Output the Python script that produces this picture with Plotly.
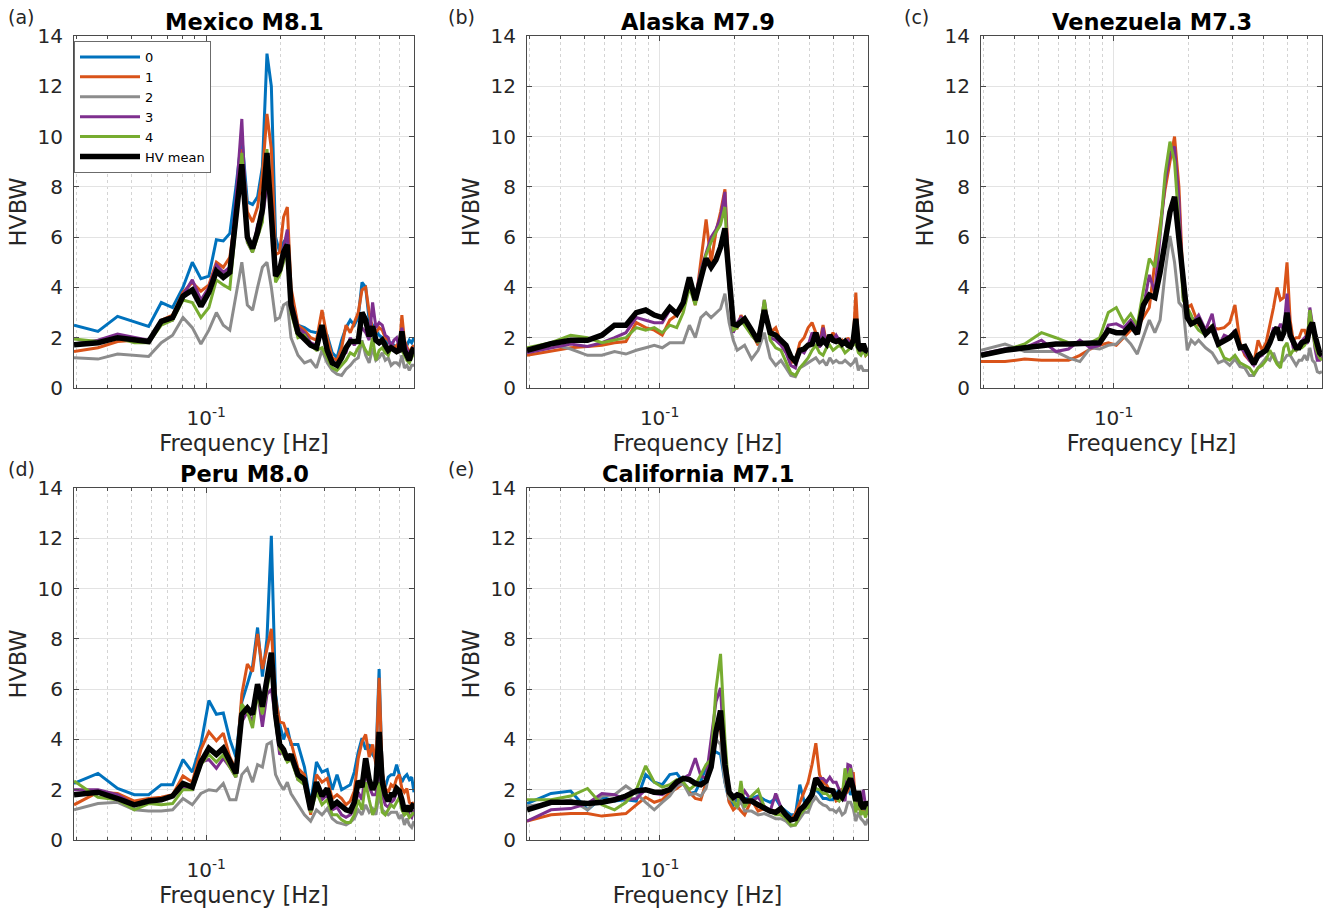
import math
import plotly.graph_objects as go

# Frequency axis [Hz] (common to all panels)
FREQ = [0.0293, 0.0366, 0.0439, 0.0513, 0.0586, 0.0659, 0.0732, 0.0806, 0.0879, 0.0952,
        0.1025, 0.1099, 0.1172, 0.1245, 0.1318, 0.1392, 0.1465, 0.1538, 0.1611, 0.1685,
        0.1758, 0.1831, 0.1904, 0.1978, 0.2051, 0.2124, 0.2197,
        0.2344, 0.2490, 0.2637, 0.2783, 0.2930, 0.3076, 0.3223, 0.3369, 0.3516, 0.3662,
        0.3809, 0.3955, 0.4102, 0.4248, 0.4395, 0.4541, 0.4688, 0.4834, 0.4980, 0.5127,
        0.5273, 0.5420, 0.5566, 0.5713, 0.5859, 0.6006, 0.6152, 0.6299, 0.6445, 0.6592,
        0.6738, 0.6885]

SERIES = ["0", "1", "2", "3", "4", "HV mean"]
COLORS = ["#0072BD", "#D95319", "#8C8C8C", "#7E2F8E", "#77AC30", "#000000"]
WIDTHS = [3.0, 3.0, 3.0, 3.0, 3.0, 5.5]

# ---- (a) Mexico M8.1
mex_0 = [2.5, 2.25, 2.85, 2.65, 2.45, 3.4, 3.2, 4.0, 5.0, 4.35, 4.45, 5.9, 5.85, 6.15, 8.0, 10.0, 7.4, 7.3, 7.6, 8.8, 13.3, 12.0, 6.0, 5.4, 5.8, 6.0, 3.5,
         2.5, 2.4, 2.25, 2.2, 2.3, 2.1, 1.4, 1.2, 1.9, 2.4, 2.7, 2.5, 2.8, 4.2, 4.0, 2.7, 2.5, 2.3, 2.1, 2.0, 1.9, 1.8, 1.8, 1.7, 1.6, 1.5, 2.0, 1.6, 1.7, 1.9, 1.8, 2.0]
mex_1 = [1.45, 1.6, 1.85, 1.9, 1.9, 2.7, 2.9, 3.8, 4.2, 3.85, 4.1, 5.0, 4.8, 5.2, 7.0, 9.5, 7.0, 6.6, 7.2, 8.5, 10.9, 9.5, 5.3, 5.4, 6.8, 7.2, 4.0,
         2.5, 2.3, 2.0, 1.9, 3.1, 2.0, 1.2, 1.1, 1.6, 2.5, 2.2, 2.6, 3.0, 3.9, 4.0, 3.0, 2.3, 2.2, 2.4, 2.3, 2.0, 1.9, 1.7, 1.6, 1.7, 1.5, 2.9, 1.9, 1.6, 1.4, 1.6, 1.7]
mex_2 = [1.2, 1.15, 1.35, 1.3, 1.25, 1.8, 2.1, 2.8, 2.4, 1.75, 2.3, 3.0, 2.5, 2.3, 3.6, 5.0, 3.3, 3.1, 4.0, 4.8, 5.0, 4.0, 2.7, 2.8, 3.3, 3.4, 2.0,
         1.3, 1.0, 1.1, 0.8, 1.5, 1.0, 0.7, 0.55, 0.5, 0.75, 0.9, 1.1, 1.2, 1.9, 1.3, 1.0, 1.6, 1.1, 1.2, 1.4, 1.1, 1.2, 0.9, 1.0, 1.0, 0.9, 1.3, 0.8, 0.9, 0.7, 0.9, 0.9]
mex_3 = [1.75, 1.9, 2.15, 2.0, 1.9, 2.6, 2.7, 3.7, 4.3, 3.5, 4.0, 4.9, 4.6, 4.8, 7.5, 10.7, 5.8, 5.4, 6.5, 6.8, 8.0, 7.5, 4.6, 4.8, 5.5, 6.3, 3.5,
         2.4, 2.2, 1.8, 1.7, 2.2, 1.6, 1.1, 0.9, 1.3, 1.4, 2.0, 1.7, 2.0, 2.4, 2.2, 1.9, 3.4, 2.4, 2.6, 2.5, 2.1, 2.0, 1.6, 1.9, 2.0, 1.6, 2.4, 1.8, 1.5, 1.3, 1.5, 1.6]
mex_4 = [1.95, 1.85, 2.0, 1.8, 1.8, 2.5, 2.7, 3.5, 3.4, 2.8, 3.2, 4.3, 4.1, 3.95, 6.5, 9.35, 5.8, 5.4, 6.0, 6.6, 9.5, 7.0, 4.2, 4.5, 5.0, 5.5, 3.0,
         2.0, 2.1, 1.7, 1.5, 1.6, 1.2, 0.8, 0.7, 0.9, 1.1, 1.4, 1.3, 1.6, 1.8, 1.5, 1.3, 2.0, 1.1, 1.5, 1.6, 1.4, 1.3, 1.6, 1.5, 1.4, 1.5, 1.5, 1.3, 1.1, 1.0, 1.2, 1.4]
mex_mean = [1.72, 1.8, 2.0, 1.9, 1.85, 2.65, 2.8, 3.65, 3.9, 3.25, 3.8, 4.65, 4.4, 4.6, 6.8, 8.9, 6.0, 5.55, 6.2, 7.1, 9.35, 6.5, 4.45, 4.7, 5.4, 5.7, 3.3,
            2.2, 1.95, 1.7, 1.6, 2.5, 1.5, 1.0, 0.9, 1.2, 1.6, 1.85, 1.85, 1.85, 3.0, 2.7, 2.05, 2.45, 1.9, 1.8, 1.9, 1.65, 1.5, 1.6, 1.5, 1.45, 1.5, 2.25, 1.5, 1.3, 1.1, 1.45, 1.6]

# ---- (b) Alaska M7.9 (no station 0)
ala_1 = [1.3, 1.45, 1.6, 1.65, 1.7, 1.8, 1.85, 2.6, 2.4, 2.3, 2.1, 2.7, 2.9, 3.2, 4.2, 3.3, 5.0, 6.7, 5.0, 6.2, 7.0, 7.9, 4.5, 2.5, 2.4, 2.9, 2.6,
         2.2, 1.7, 3.3, 2.2, 2.4, 1.8, 1.5, 1.0, 1.1, 1.8, 2.0, 2.4, 2.6, 2.2, 1.8, 2.5, 1.8, 1.9, 2.2, 2.0, 1.8, 1.9, 1.7, 2.0, 1.8, 1.9, 3.8, 1.8, 1.4, 1.6, 1.3, 1.4]
ala_2 = [1.5, 1.75, 1.55, 1.3, 1.3, 1.45, 1.35, 1.5, 1.6, 1.7, 1.6, 1.8, 1.8, 1.8, 2.5, 2.0, 2.8, 3.0, 2.8, 3.0, 3.15, 3.75, 2.6, 1.9, 1.5, 1.6, 1.7,
         1.15, 1.5, 2.2, 1.2, 0.9, 1.1, 0.8, 0.5, 0.45, 0.8, 0.9, 1.0, 1.1, 1.2, 1.0, 1.1, 0.9, 1.2, 1.0, 1.1, 1.0, 1.0, 1.1, 1.0, 0.9, 1.0, 1.2, 0.7, 0.9, 0.7, 0.7, 0.7]
ala_3 = [1.4, 1.6, 1.75, 1.65, 1.8, 2.0, 2.2, 2.8, 2.7, 2.6, 2.6, 3.1, 3.0, 3.4, 4.1, 3.6, 4.7, 5.4, 6.0, 6.3, 6.8, 7.8, 4.0, 2.2, 2.6, 2.8, 2.6,
         2.1, 1.8, 3.5, 2.0, 1.9, 1.7, 1.4, 0.9, 0.8, 1.5, 1.4, 1.7, 2.2, 2.0, 1.6, 2.4, 1.7, 2.0, 1.9, 2.1, 1.9, 1.8, 1.8, 1.9, 1.7, 2.0, 2.5, 1.6, 1.4, 1.7, 1.4, 1.5]
ala_4 = [1.6, 1.8, 2.1, 2.0, 1.8, 1.9, 2.0, 2.4, 2.3, 2.4, 2.2, 2.5, 2.4, 3.0, 4.0, 3.3, 4.6, 5.3, 5.8, 6.2, 6.5, 7.2, 4.0, 2.3, 2.4, 2.7, 2.5,
         2.1, 1.8, 3.5, 1.9, 1.6, 1.5, 1.0, 0.6, 0.5, 0.8, 1.0, 1.2, 1.5, 1.7, 1.4, 1.3, 1.6, 1.7, 1.5, 1.6, 1.7, 1.6, 1.4, 1.5, 1.6, 1.7, 1.8, 1.4, 1.3, 1.5, 1.3, 1.4]
ala_mean = [1.5, 1.76, 1.9, 1.9, 2.1, 2.5, 2.5, 3.0, 3.1, 2.9, 2.8, 3.2, 2.95, 3.4, 4.4, 3.5, 4.35, 5.15, 4.8, 5.1, 5.6, 6.35, 4.4, 2.55, 2.5, 2.6, 2.75,
            2.3, 1.85, 3.1, 2.2, 2.1, 1.9, 1.7, 1.25, 1.05, 1.5, 1.55, 1.7, 1.75, 2.2, 1.7, 1.9, 1.75, 2.1, 1.9, 1.85, 1.9, 1.75, 1.85, 1.7, 1.65, 1.9, 2.75, 1.65, 1.5, 1.75, 1.5, 1.45]

# ---- (c) Venezuela M7.3 (no station 0)
ven_1 = [1.05, 1.05, 1.15, 1.1, 1.1, 1.1, 1.3, 1.55, 1.7, 1.8, 1.7, 2.0, 2.3, 2.4, 2.8, 3.2, 5.0, 6.5, 7.9, 9.0, 10.0, 8.0, 4.1, 3.2, 3.3, 2.9, 2.5,
         2.4, 2.4, 2.35, 2.4, 2.6, 3.3, 1.8, 1.3, 1.1, 1.0, 1.9, 1.5, 1.8, 2.5, 3.2, 4.0, 3.5, 3.6, 5.0, 2.7, 1.9, 2.0, 2.0, 2.3, 2.3, 2.0, 2.9, 2.5, 1.8, 1.4, 1.2, 1.2]
ven_2 = [1.5, 1.75, 1.45, 1.45, 1.45, 1.2, 1.05, 1.6, 1.55, 1.7, 1.75, 2.05, 1.75, 1.35, 2.0, 2.7, 2.2, 2.7, 4.6, 6.05, 5.0, 3.4, 3.2, 1.5, 1.9, 1.75, 1.9,
         1.6, 1.4, 1.0, 1.1, 0.9, 1.15, 0.85, 0.8, 0.5, 0.5, 0.8, 1.0, 1.2, 1.1, 1.4, 1.0, 1.0, 1.1, 1.3, 1.3, 1.1, 0.9, 1.1, 1.1, 1.3, 1.1, 1.6, 1.1, 1.0, 0.65, 0.6, 0.65]
ven_3 = [1.35, 1.55, 1.6, 1.9, 1.45, 1.55, 1.9, 1.6, 1.7, 2.5, 2.55, 2.4, 2.7, 2.4, 3.2, 4.5, 3.8, 6.0, 8.2, 9.3, 9.6, 7.5, 3.6, 3.0, 2.8, 2.7, 2.9,
         2.3, 2.95, 1.65, 2.1, 2.0, 2.3, 1.65, 1.4, 1.1, 0.9, 1.2, 1.3, 1.5, 1.8, 2.4, 2.2, 2.55, 2.3, 3.75, 2.3, 1.6, 1.5, 1.75, 1.9, 2.0, 1.75, 3.2, 2.55, 1.6, 1.1, 1.1, 1.3]
ven_4 = [1.3, 1.5, 1.75, 2.2, 2.0, 1.8, 1.75, 1.8, 2.0, 3.0, 3.2, 2.6, 2.95, 2.5, 3.9, 5.15, 4.8, 6.2, 8.5, 9.8, 9.0, 6.5, 3.5, 3.2, 2.9, 2.5, 2.3,
         2.1, 2.5, 1.7, 1.2, 1.1, 1.3, 1.0, 0.9, 0.8, 0.55, 0.8, 0.9, 1.1, 1.5, 1.2, 0.95, 0.8, 1.6, 1.8, 1.3, 1.5, 1.5, 1.6, 1.6, 1.7, 1.9, 3.1, 2.4, 1.7, 1.4, 1.2, 1.1]
ven_mean = [1.3, 1.5, 1.6, 1.7, 1.75, 1.75, 1.75, 1.75, 1.8, 2.3, 2.2, 2.2, 2.5, 2.15, 3.3, 3.7, 3.6, 4.6, 5.8, 7.0, 7.6, 6.0, 4.0, 2.8, 2.55, 2.6, 2.7,
            2.15, 2.4, 1.75, 1.85, 2.0, 2.2, 1.6, 1.65, 1.3, 0.95, 1.3, 1.4, 1.5, 1.8, 2.2, 2.4, 1.9, 2.2, 3.0, 2.1, 1.8, 1.6, 1.6, 1.8, 1.85, 1.9, 2.4, 2.6, 2.1, 1.7, 1.4, 1.3]

# ---- (d) Peru M8.0
per_0 = [2.25, 2.65, 2.05, 1.8, 1.8, 2.2, 2.2, 3.2, 2.7, 3.8, 5.55, 5.0, 5.05, 4.0, 3.3, 5.5, 6.2, 6.9, 8.45, 6.5, 8.0, 12.1, 5.8, 4.6, 4.0, 4.45, 3.8,
         3.8, 2.9, 1.4, 3.1, 2.7, 2.8, 2.0, 2.6, 2.0, 2.1, 2.2, 2.7, 3.5, 4.05, 3.6, 3.8, 3.4, 3.2, 6.8, 2.6, 2.1, 2.5, 2.6, 2.6, 3.0, 2.6, 2.3, 2.5, 2.6, 2.4, 2.5, 1.9]
per_1 = [1.4, 1.9, 1.85, 1.55, 1.65, 1.7, 1.8, 2.55, 2.3, 3.6, 4.3, 3.95, 4.25, 3.3, 2.8, 5.8, 7.0, 6.7, 8.2, 6.8, 7.6, 8.4, 5.6, 4.7, 4.65, 4.2, 3.9,
         2.85, 2.6, 1.0, 2.6, 2.3, 2.45, 1.65, 1.8, 1.65, 1.4, 1.55, 1.95, 3.25, 3.9, 4.2, 3.3, 3.8, 3.0, 6.45, 2.7, 2.05, 1.9, 2.2, 2.1, 2.45, 2.6, 2.05, 1.9, 2.05, 1.5, 1.4, 1.5]
per_2 = [1.2, 1.45, 1.5, 1.2, 1.15, 1.15, 1.2, 1.65, 1.4, 1.85, 2.0, 1.95, 2.25, 1.6, 1.6, 2.6, 2.85, 2.3, 3.0, 2.9, 3.8, 3.9, 2.6, 2.25, 2.0, 2.3, 1.85,
         1.4, 1.0, 0.75, 1.2, 1.0, 1.25, 0.85, 0.7, 0.65, 0.6, 0.7, 0.85, 1.2, 1.0, 1.4, 1.1, 1.25, 1.0, 1.85, 1.2, 1.1, 1.0, 1.1, 1.1, 1.1, 0.85, 1.0, 0.6, 0.85, 0.6, 0.5, 0.75]
per_3 = [2.0, 2.0, 1.8, 1.4, 1.5, 1.6, 1.75, 2.05, 2.05, 3.1, 3.2, 2.85, 3.25, 2.9, 2.5, 4.7, 5.1, 4.7, 5.9, 4.5, 5.8, 6.0, 4.8, 3.4, 3.6, 3.2, 3.3,
         2.4, 2.3, 1.2, 2.1, 1.6, 1.8, 1.2, 1.3, 1.0, 0.9, 1.0, 1.2, 1.9, 1.6, 2.8, 2.1, 1.8, 1.8, 3.0, 1.8, 1.4, 1.3, 1.5, 1.6, 1.9, 1.9, 1.3, 1.0, 1.3, 1.0, 0.9, 1.2]
per_4 = [2.35, 1.7, 1.6, 1.2, 1.45, 1.4, 1.45, 2.0, 2.0, 3.0, 3.4, 3.1, 3.4, 2.9, 2.5, 5.4, 5.1, 4.45, 5.8, 5.0, 6.0, 7.0, 4.7, 3.6, 3.4, 3.1, 3.2,
         2.4, 2.2, 1.1, 1.9, 1.4, 1.6, 1.0, 1.0, 0.8, 0.7, 0.7, 1.0, 1.6, 1.2, 2.3, 1.6, 1.0, 1.3, 2.3, 1.1, 1.0, 1.2, 1.4, 1.3, 1.5, 1.7, 1.2, 1.0, 1.1, 0.9, 1.0, 1.1]
per_mean = [1.8, 1.9, 1.65, 1.4, 1.55, 1.6, 1.75, 2.25, 2.1, 3.1, 3.65, 3.4, 3.65, 3.1, 2.65, 5.0, 5.25, 5.0, 6.2, 5.3, 6.5, 7.45, 5.0, 3.8, 3.6, 3.2, 3.4,
            2.6, 2.4, 1.2, 2.3, 1.75, 2.05, 1.35, 1.5, 1.35, 1.2, 1.15, 1.5, 2.35, 2.1, 3.25, 2.4, 2.0, 2.3, 4.3, 2.3, 1.8, 1.55, 1.8, 1.8, 2.05, 1.95, 1.6, 1.15, 1.35, 1.15, 1.3, 1.45]

# ---- (e) California M7.1
cal_0 = [1.45, 1.85, 1.95, 1.2, 1.7, 1.55, 1.6, 1.55, 2.6, 2.3, 2.2, 2.6, 2.65, 2.3, 1.85, 1.9, 2.35, 2.85, 3.4, 3.5, 3.4, 2.3, 1.55, 1.4, 1.65, 1.6, 1.65,
         1.65, 1.75, 1.6, 1.5, 1.65, 1.3, 1.15, 1.0, 1.0, 2.2, 1.55, 1.6, 1.95, 2.0, 1.85, 1.65, 1.65, 1.6, 1.6, 1.85, 2.0, 1.8, 1.8, 2.1, 1.8, 1.95, 1.3, 1.4, 1.15, 1.15, 1.3, 1.15]
cal_1 = [0.75, 1.0, 1.05, 1.05, 0.95, 1.0, 1.05, 1.4, 1.7, 1.5, 1.6, 1.9, 2.05, 2.25, 1.9, 1.65, 1.6, 2.3, 3.3, 4.6, 4.4, 2.6, 1.5, 1.2, 1.35, 1.15, 1.0,
         1.6, 1.15, 1.25, 1.2, 1.15, 1.0, 0.9, 0.8, 1.05, 1.5, 1.9, 2.3, 3.0, 3.85, 2.6, 2.3, 2.2, 1.95, 1.9, 1.55, 1.6, 2.05, 1.8, 1.95, 2.35, 2.7, 1.3, 1.3, 1.15, 1.15, 1.0, 1.2]
cal_2 = [1.35, 1.45, 1.6, 1.2, 1.75, 1.8, 2.15, 1.85, 1.5, 1.2, 1.5, 1.75, 2.15, 2.25, 1.8, 1.85, 1.75, 2.05, 3.0, 4.0, 3.8, 2.3, 1.65, 1.55, 1.3, 1.55, 1.15,
         1.15, 1.0, 1.05, 0.95, 0.85, 0.85, 0.75, 0.55, 0.6, 0.85, 1.1, 1.1, 1.5, 1.7, 1.5, 1.4, 1.35, 1.2, 1.2, 1.1, 1.25, 1.0, 1.1, 1.5, 1.5, 1.25, 0.75, 1.1, 0.85, 0.75, 0.6, 0.85]
cal_3 = [0.75, 1.2, 1.25, 1.45, 1.85, 1.8, 1.6, 1.65, 2.0, 1.85, 1.8, 2.0, 2.2, 2.45, 2.6, 3.25, 2.55, 2.45, 3.9, 5.5, 6.05, 2.9, 1.8, 1.55, 1.8, 1.65, 1.95,
         1.55, 1.7, 1.35, 1.15, 1.85, 1.3, 0.95, 0.85, 0.85, 1.1, 1.3, 1.55, 1.9, 2.45, 2.45, 2.45, 2.3, 2.5, 2.3, 2.3, 2.0, 1.8, 1.55, 3.0, 2.95, 2.3, 1.5, 1.9, 1.5, 2.0, 1.3, 1.0]
cal_4 = [1.6, 1.6, 1.75, 2.05, 1.4, 1.2, 1.5, 2.0, 2.95, 2.3, 2.1, 2.2, 2.4, 2.3, 2.0, 2.2, 2.6, 3.0, 3.2, 6.0, 7.4, 4.0, 1.8, 1.55, 1.3, 2.35, 1.3,
         1.75, 2.0, 1.3, 1.15, 1.0, 1.0, 0.85, 0.6, 0.6, 1.0, 1.2, 1.3, 1.85, 2.05, 2.0, 1.85, 1.85, 1.7, 1.85, 1.65, 1.55, 1.7, 2.85, 2.3, 2.85, 1.9, 1.1, 1.55, 1.0, 1.15, 0.9, 1.4]
cal_mean = [1.2, 1.5, 1.5, 1.45, 1.5, 1.6, 1.75, 1.95, 2.0, 1.9, 1.9, 2.0, 2.3, 2.45, 2.4, 2.25, 2.2, 2.35, 2.9, 4.3, 5.15, 3.0, 1.9, 1.7, 1.8, 1.75, 1.55,
            1.55, 1.4, 1.25, 1.15, 1.1, 1.25, 1.0, 0.8, 0.85, 1.2, 1.35, 1.55, 1.8, 2.45, 2.25, 2.05, 2.0, 1.95, 1.95, 1.65, 1.85, 1.7, 1.95, 2.2, 2.45, 2.05, 1.55, 1.95, 1.4, 1.25, 1.5, 1.35]

PANELS = [
    ("(a)", "Mexico M8.1", [mex_0, mex_1, mex_2, mex_3, mex_4, mex_mean]),
    ("(b)", "Alaska M7.9", [None, ala_1, ala_2, ala_3, ala_4, ala_mean]),
    ("(c)", "Venezuela M7.3", [None, ven_1, ven_2, ven_3, ven_4, ven_mean]),
    ("(d)", "Peru M8.0", [per_0, per_1, per_2, per_3, per_4, per_mean]),
    ("(e)", "California M7.1", [cal_0, cal_1, cal_2, cal_3, cal_4, cal_mean]),
]

X_TICKS = [0.1]
X_TICKTEXT = ["10<sup>-1</sup>"]
X_MINOR = [0.03, 0.04, 0.05, 0.06, 0.07, 0.08, 0.09, 0.2, 0.3, 0.4, 0.5, 0.6]
Y_TICKS = [0, 2, 4, 6, 8, 10, 12, 14]

W, H = 1328, 911
XDOM = [(74, 414), (527, 868), (981, 1322)]
YDOM = [(36, 388), (488, 840)]
LETTER_X = [6, 446, 902]

AX_COLOR = "#4a4a4a"
TXT = "#262626"
FONT = "DejaVu Sans"

fig = go.Figure()
annotations = []

for i, (letter, title, series) in enumerate(PANELS):
    row, col = divmod(i, 3)
    n = "" if i == 0 else str(i + 1)
    x0, x1 = XDOM[col]
    y0, y1 = YDOM[row]
    for name, color, width, vals in zip(SERIES, COLORS, WIDTHS, series):
        if vals is None:
            continue
        fig.add_trace(go.Scatter(
            x=FREQ, y=vals, mode="lines", name=name,
            line=dict(color=color, width=width),
            xaxis="x" + n, yaxis="y" + n,
            showlegend=(i == 0), legendgroup=name,
        ))
    fig.update_layout(**{
        "xaxis" + n: dict(
            type="log", domain=[x0 / W, x1 / W], anchor="y" + n,
            range=[math.log10(FREQ[0]), math.log10(FREQ[-1])],
            tickmode="array", tickvals=X_TICKS, ticktext=X_TICKTEXT,
            ticks="inside", ticklen=5, tickcolor=AX_COLOR,
            showline=True, linecolor=AX_COLOR, linewidth=1, mirror="ticks",
            showgrid=True, gridcolor="#e3e3e3", gridwidth=1,
            zeroline=False, automargin=False,
            tickfont=dict(family=FONT, size=20, color=TXT),
            ticklabelstandoff=12,
            title=dict(text="Frequency [Hz]", standoff=4,
                       font=dict(family=FONT, size=22.5, color=TXT)),
            minor=dict(tickmode="array", tickvals=X_MINOR, ticks="inside", ticklen=3,
                       tickcolor=AX_COLOR, showgrid=True, gridcolor="#d4d4d4",
                       griddash="dot", gridwidth=1),
        ),
        "yaxis" + n: dict(
            domain=[1 - y1 / H, 1 - y0 / H], anchor="x" + n,
            range=[0, 14], tickmode="array", tickvals=Y_TICKS,
            ticks="inside", ticklen=5, tickcolor=AX_COLOR,
            showline=True, linecolor=AX_COLOR, linewidth=1, mirror="ticks",
            showgrid=True, gridcolor="#e3e3e3", gridwidth=1,
            zeroline=False, automargin=False,
            tickfont=dict(family=FONT, size=20, color=TXT),
            ticklabelstandoff=6,
            title=dict(text="HVBW", standoff=4,
                       font=dict(family=FONT, size=22.5, color=TXT)),
        ),
    })
    cx = (x0 + x1) / 2 / W
    annotations.append(dict(text="<b>" + title + "</b>", x=cx, y=1 - (y0 - 14) / H,
                            xref="paper", yref="paper", showarrow=False,
                            xanchor="center", yanchor="middle",
                            font=dict(family=FONT, size=22.5, color="#000000")))
    annotations.append(dict(text=letter, x=LETTER_X[col] / W, y=1 - (y0 - 19) / H,
                            xref="paper", yref="paper", showarrow=False,
                            xanchor="left", yanchor="middle",
                            font=dict(family=FONT, size=19, color=TXT)))

fig.update_layout(
    width=W, height=H, autosize=False,
    margin=dict(l=0, r=0, t=0, b=0, pad=0, autoexpand=False),
    paper_bgcolor="white", plot_bgcolor="white",
    annotations=annotations,
    showlegend=True,
    legend=dict(x=74 / W, y=1 - 41 / H, xanchor="left", yanchor="top",
                bgcolor="white", bordercolor="#6b6b6b", borderwidth=1,
                font=dict(family=FONT, size=13, color="#000000"),
                itemwidth=60, tracegroupgap=0),
)

fig.write_html("out.html", config={"responsive": False, "displayModeBar": False},
               post_script="document.body.style.margin='0px';document.body.style.overflow='hidden';")
